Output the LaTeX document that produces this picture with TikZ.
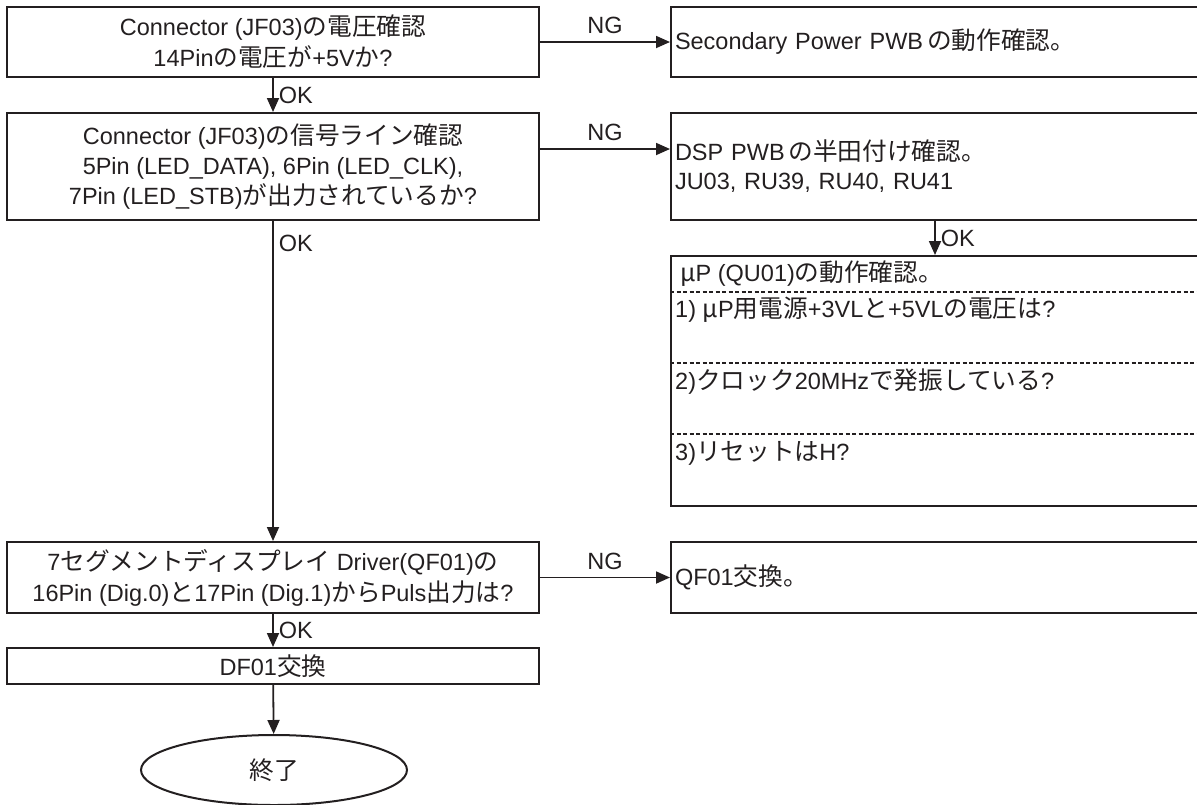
\documentclass[tikz,border=0pt]{standalone}
\usepackage{fontspec}
\setmainfont{Liberation Sans}
\newfontfamily\jpfont[Scale=1.05]{Noto Sans CJK JP}
\newcommand\J[1]{{\jpfont #1}}
\usetikzlibrary{arrows.meta,shapes.geometric}
\definecolor{ink}{HTML}{231F20}
\begin{document}
\begin{tikzpicture}[x=1pt,y=-1pt,
  box/.style={draw=ink, line width=2pt, inner sep=0pt, text=ink, font=\fontsize{23.5}{30}\selectfont, align=center},
  lbox/.style={box, align=left, text width=520pt, inner xsep=4pt},
  arr/.style={draw=ink, line width=1.8pt, -{Triangle[length=14pt,width=12pt]}},
  lab/.style={text=ink, font=\fontsize{23.5}{28}\selectfont, inner sep=1pt},
  dsh/.style={draw=ink, line width=1.3pt, dash pattern=on 4pt off 2.5pt},
]
\useasboundingbox (0,0) rectangle (1197,804);

% left column
\node[box, minimum width=532pt, minimum height=70pt, font=\fontsize{23.5}{31}\selectfont] (b1) at (273,42)
  {Connector (JF03)\J{の電圧確認}\\14Pin\J{の電圧が}+5V\J{か}?};
\node[box, minimum width=532pt, minimum height=107pt] (b2) at (273,166.5)
  {Connector (JF03)\J{の信号ライン確認}\\5Pin (LED\_DATA), 6Pin (LED\_CLK),\\7Pin (LED\_STB)\J{が出力されているか}?};
\node[box, minimum width=532pt, minimum height=71pt, font=\fontsize{23.5}{31}\selectfont] (b3) at (273,577.5)
  {7\J{セグメントディスプレイ} Driver(QF01)\J{の}\\16Pin (Dig.0)\J{と}17Pin (Dig.1)\J{から}Puls\J{出力は}?};
\node[box, minimum width=532pt, minimum height=36pt] (b4) at (273,666) {DF01\J{交換}};
\node[box, ellipse, minimum width=266pt, minimum height=70pt] (end) at (274,770) {\J{終了}};

% right column
\node[lbox, minimum height=70pt] (r1) at (935,42) {Secondary Power PWB\,\J{の動作確認。}};
\node[lbox, minimum height=107pt, font=\fontsize{23.5}{29}\selectfont] (r2) at (935,166.5)
  {DSP PWB\,\J{の半田付け確認。}\\JU03, RU39, RU40, RU41};
\node[box, minimum width=528pt, minimum height=250pt] (mu) at (935,381) {};
\node[lab, anchor=west] (mu0) at (679,274) {\J{μ}P (QU01)\J{の動作確認。}};
\node[lab, anchor=west] (mu1) at (674,310) {1) \J{μ}P\J{用電源}+3VL\J{と}+5VL\J{の電圧は}?};
\node[lab, anchor=west] (mu2) at (674,382) {2)\J{クロック}20MHz\J{で発振している}?};
\node[lab, anchor=west] (mu3) at (674,453) {3)\J{リセットは}H?};
\coordinate (d1) at (0,292);
\coordinate (d2) at (0,363);
\coordinate (d3) at (0,434);
\draw[dsh] (mu.west |- d1) -- (mu.east |- d1);
\draw[dsh] (mu.west |- d2) -- (mu.east |- d2);
\draw[dsh] (mu.west |- d3) -- (mu.east |- d3);
\node[lbox, minimum height=71pt] (q1) at (935,577.5) {QF01\J{交換。}};

% connectors
\draw[arr] (b1) -- node[lab, right, xshift=4pt] {OK} (b2);
\draw[arr] (b2) -- node[lab, pos=0.07, right, xshift=4pt] {OK} (b3);
\draw[arr] (b3) -- node[lab, right, xshift=4pt] {OK} (b4);
\draw[arr] (b4) -- (end);
\draw[arr] (r2) -- node[lab, right, xshift=4pt] {OK} (mu);
\draw[arr] (b1.east) -- node[lab, above, yshift=6pt] {NG} (r1.west);
\draw[arr] ([yshift=17.5pt]b2.east) -- node[lab, above, yshift=6pt] {NG} ([yshift=17.5pt]r2.west);
\draw[arr] (b3.east) -- node[lab, above, yshift=6pt] {NG} (q1.west);
\end{tikzpicture}
\end{document}
